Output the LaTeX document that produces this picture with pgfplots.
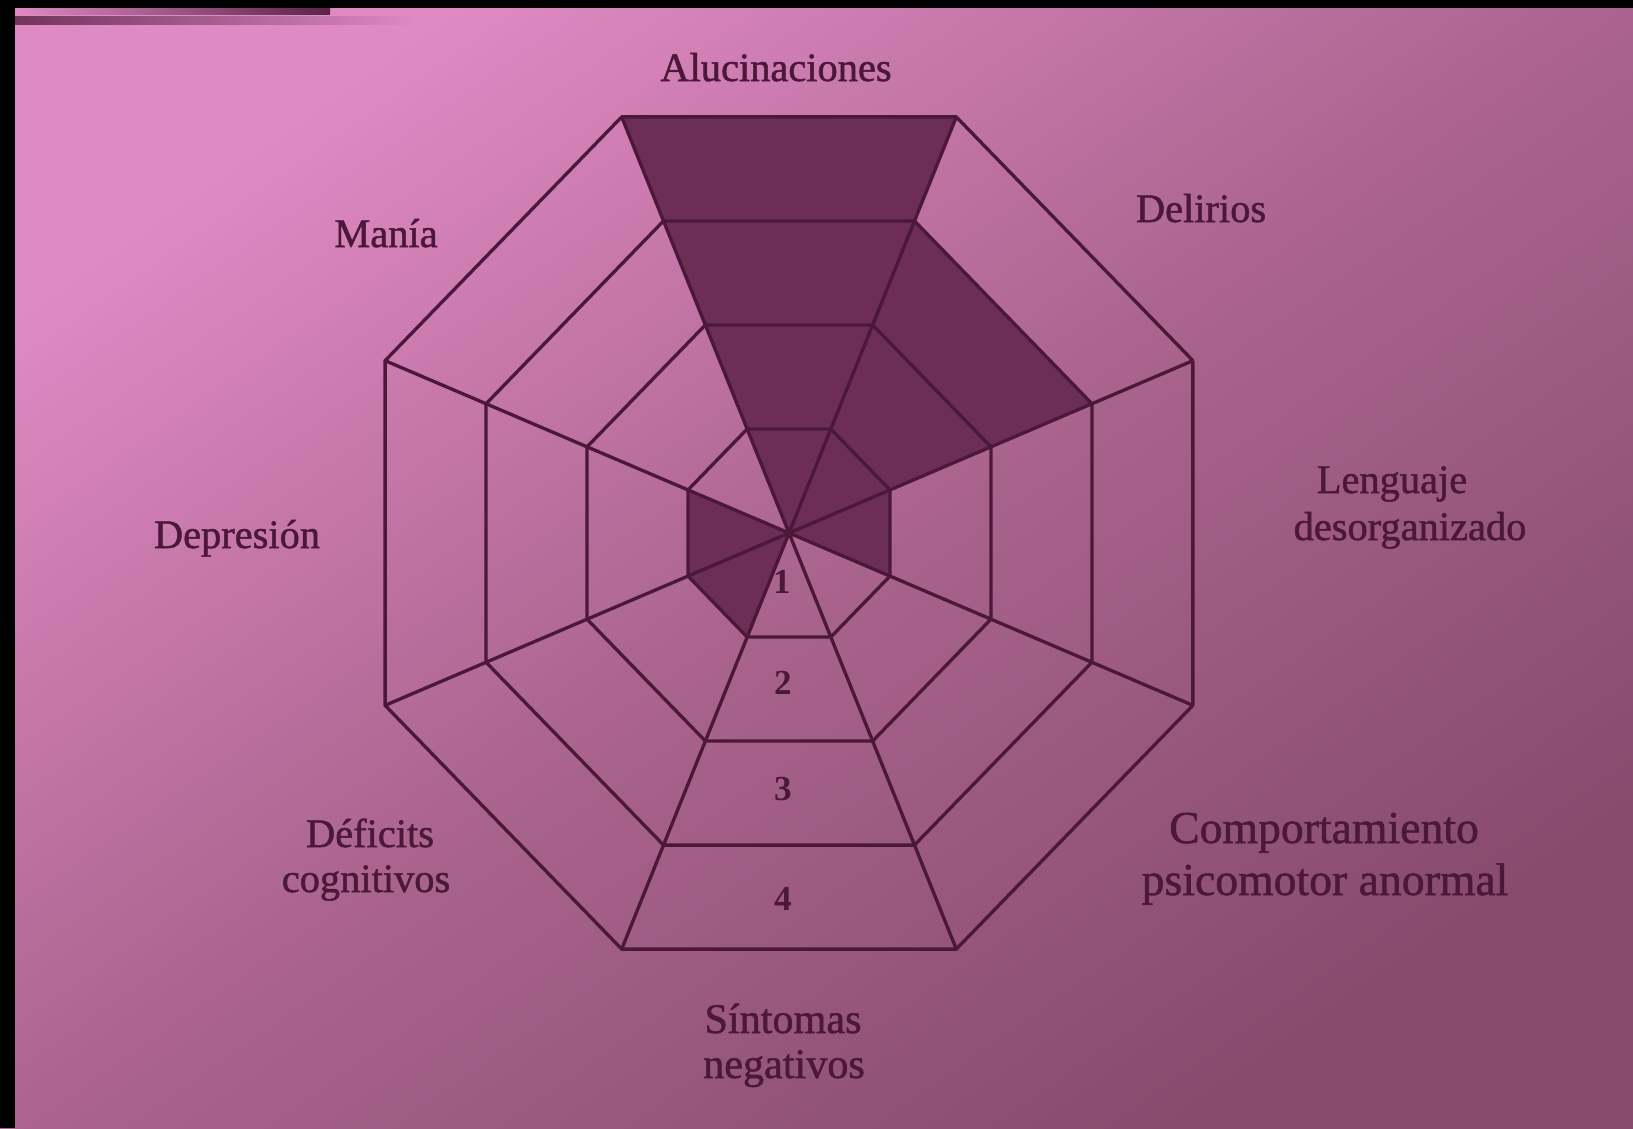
\documentclass[border=0pt]{standalone}
\usepackage{pgfplots}
\pgfplotsset{compat=1.18}
\usepackage{pgfplotstable}
\usepackage{fontspec}
\setmainfont{Liberation Serif}
\newfontfamily\labfont{Liberation Serif}[FakeBold=1.2]

\definecolor{bgA}{HTML}{E08AC4}
\definecolor{bgM}{HTML}{AA648E}
\definecolor{bgB}{HTML}{874B6E}
\definecolor{ink}{HTML}{4C183A}
\definecolor{fillc}{HTML}{6C2D56}

% profile: sector edges (degrees) and level of each dimension
% Alucinaciones 4, Delirios 3, Lenguaje 1, Comportamiento 0,
% Sintomas negativos 0, Deficits 1, Depresion 1, Mania 0
\pgfplotstableread{
ang lvl
112.5 4
67.5 4
67.5 3
22.5 3
22.5 1
-22.5 1
-22.5 0
-67.5 0
-67.5 0
-112.5 0
-112.5 1
-157.5 1
-157.5 1
-202.5 1
-202.5 0
-247.5 0
}\profiletab

\pgfplotstableread{
ang lvl
22.5 1
67.5 1
112.5 1
157.5 1
202.5 1
247.5 1
292.5 1
337.5 1
382.5 1
}\ringtab

\pgfplotstableread{
ang lvl
22.5 4
0 0
67.5 4
0 0
112.5 4
0 0
157.5 4
0 0
202.5 4
0 0
247.5 4
0 0
292.5 4
0 0
337.5 4
}\spoketab

\newcommand\cx{789}
\newcommand\cy{533}
\newcommand\rx{109.3}
\newcommand\ry{112.6}

\begin{document}
\begin{tikzpicture}
\begin{axis}[
  width=163.3mm, height=112.8mm, scale only axis,
  xmin=0, xmax=1633, ymin=0, ymax=1128, y dir=reverse,
  hide axis,
  every axis plot/.append style={line join=round},
]
\path[shade, top color=bgA, bottom color=bgB, middle color=bgM, shading angle=35]
  (axis cs:0,0) rectangle (axis cs:1633,1128);
\fill[black] (axis cs:0,0) rectangle (axis cs:15,1128);
\fill[black] (axis cs:0,0) rectangle (axis cs:1633,8);
\path[shade, left color=ink!75!bgA, right color=bgA]
  (axis cs:15,16) rectangle (axis cs:420,24);
\path[shade, left color=bgA, right color=ink!90!bgA]
  (axis cs:15,8) rectangle (axis cs:330,14);

\addplot[draw=none, fill=fillc, forget plot] table[
  x expr={\cx+\thisrow{lvl}*\rx*cos(\thisrow{ang})},
  y expr={\cy-\thisrow{lvl}*\ry*sin(\thisrow{ang})}] {\profiletab} -- cycle;

\pgfplotsinvokeforeach{1,2,3,4}{
\addplot[ink, line width=0.95pt] table[
  x expr={\cx+#1*\thisrow{lvl}*\rx*cos(\thisrow{ang})},
  y expr={\cy-#1*\thisrow{lvl}*\ry*sin(\thisrow{ang})}] {\ringtab};
}
\addplot[ink, line width=0.95pt] table[
  x expr={\cx+\thisrow{lvl}*\rx*cos(\thisrow{ang})},
  y expr={\cy-\thisrow{lvl}*\ry*sin(\thisrow{ang})}] {\spoketab};

\tikzset{lab/.style={anchor=base, text=ink, font=\labfont\fontsize{11.5}{13}\selectfont}}
\node[lab] at (axis cs:776,81) {Alucinaciones};
\node[lab] at (axis cs:1201,222) {Delirios};
\node[lab] at (axis cs:386,247) {Manía};
\node[lab] at (axis cs:1392,493) {Lenguaje};
\node[lab] at (axis cs:1410,540) {desorganizado};
\node[lab] at (axis cs:237,548) {Depresión};
\node[lab] at (axis cs:370,847) {Déficits};
\node[lab] at (axis cs:366,892) {cognitivos};
\node[lab, font=\labfont\fontsize{13}{15}\selectfont] at (axis cs:1324,843) {Comportamiento};
\node[lab, font=\labfont\fontsize{13}{15}\selectfont] at (axis cs:1325,895) {psicomotor anormal};
\node[lab, font=\labfont\fontsize{12}{14}\selectfont] at (axis cs:783,1033) {Síntomas};
\node[lab, font=\labfont\fontsize{12}{14}\selectfont] at (axis cs:784,1078) {negativos};

\tikzset{num/.style={anchor=base, text=ink, font=\bfseries\fontsize{10}{12}\selectfont}}
\node[num] at (axis cs:782,593) {1};
\node[num] at (axis cs:783,694) {2};
\node[num] at (axis cs:783,800) {3};
\node[num] at (axis cs:783,910) {4};
\end{axis}
\end{tikzpicture}
\end{document}
